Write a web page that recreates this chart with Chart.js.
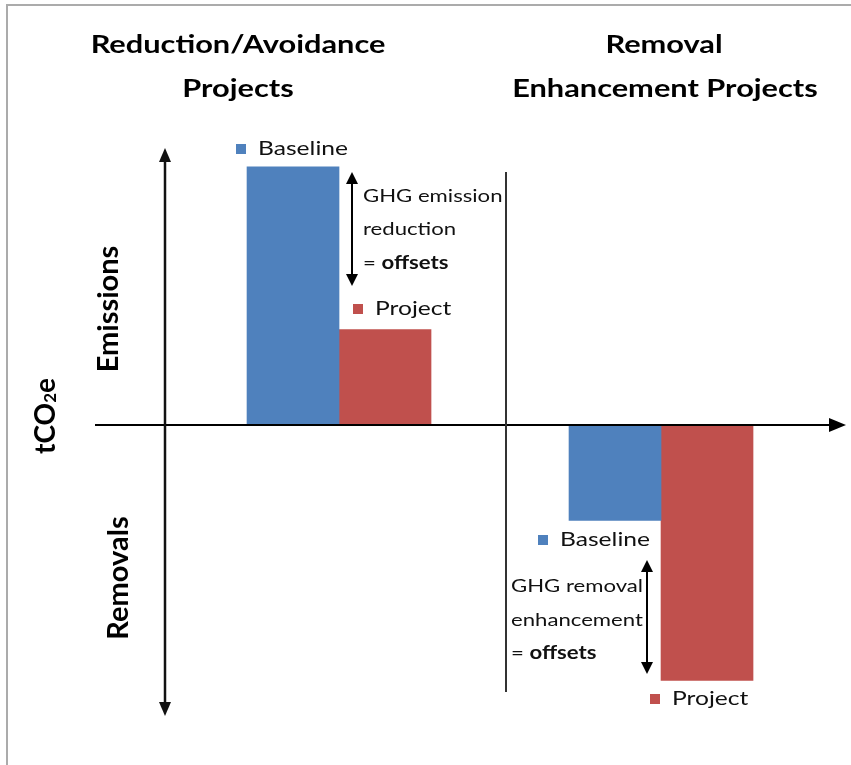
<!DOCTYPE html>
<html>
<head>
<meta charset="utf-8">
<script src="https://cdn.jsdelivr.net/npm/chart.js@4"></script>
<style>
  html, body { margin: 0; padding: 0; background: #fff; }
  canvas { display: block; }
</style>
</head>
<body>
<canvas id="offsetsChart" width="851" height="765"></canvas>
<script>
// data
const groups = ['Reduction/Avoidance Projects', 'Removal Enhancement Projects'];
const seriesNames = ['Baseline', 'Project'];
const baselineSlots = [2, 5.5];
const projectSlots = [3, 6.5];
const baselineValues = [10, -3.7];
const projectValues = [3.7, -9.9];

const BLUE = '#4F81BD';
const RED = '#C0504D';
const FONT = 'Lato, "Open Sans", sans-serif';
const STRETCH = 1.23; // reference text is wide, stretch horizontally

function arrow(ctx, x1, y1, x2, y2, opts) {
    const o = Object.assign({ color: '#000', width: 2, head: 14, headW: 6, start: false, end: true }, opts);
    const ang = Math.atan2(y2 - y1, x2 - x1);
    ctx.save();
    ctx.strokeStyle = o.color;
    ctx.fillStyle = o.color;
    ctx.lineWidth = o.width;
    const sx = o.start ? x1 + Math.cos(ang) * o.head * 0.8 : x1;
    const sy = o.start ? y1 + Math.sin(ang) * o.head * 0.8 : y1;
    const ex = o.end ? x2 - Math.cos(ang) * o.head * 0.8 : x2;
    const ey = o.end ? y2 - Math.sin(ang) * o.head * 0.8 : y2;
    ctx.beginPath();
    ctx.moveTo(sx, sy);
    ctx.lineTo(ex, ey);
    ctx.stroke();
    const head = (tx, ty, a) => {
        ctx.beginPath();
        ctx.moveTo(tx, ty);
        ctx.lineTo(tx - Math.cos(a) * o.head - Math.sin(a) * o.headW, ty - Math.sin(a) * o.head + Math.cos(a) * o.headW);
        ctx.lineTo(tx - Math.cos(a) * o.head + Math.sin(a) * o.headW, ty - Math.sin(a) * o.head - Math.cos(a) * o.headW);
        ctx.closePath();
        ctx.fill();
    };
    if (o.end) head(x2, y2, ang);
    if (o.start) head(x1, y1, ang + Math.PI);
    ctx.restore();
}

function text(ctx, str, x, y, font, align, stretch) {
    const s = stretch || STRETCH;
    ctx.save();
    ctx.font = font;
    ctx.textAlign = align || 'left';
    ctx.textBaseline = 'middle';
    ctx.translate(x, y);
    ctx.scale(s, 1);
    ctx.fillText(str, 0, 0);
    ctx.restore();
}

function textWidth(ctx, str, font) {
    ctx.save();
    ctx.font = font;
    const w = ctx.measureText(str).width * STRETCH;
    ctx.restore();
    return w;
}

function legendItem(ctx, color, label, x, y) {
    ctx.fillStyle = color;
    ctx.fillRect(x, y - 5, 10, 10);
    ctx.fillStyle = '#111';
    text(ctx, label, x + 22, y, '20px ' + FONT);
}

const decorations = {
    id: 'decorations',
    afterDatasetsDraw(chart) {
        const { ctx, scales: { y } } = chart;
        const zeroY = y.getPixelForValue(0);
        const base = chart.getDatasetMeta(0).data;
        const proj = chart.getDatasetMeta(1).data;

        ctx.save();
        // frame
        ctx.fillStyle = '#ababab';
        ctx.fillRect(6, 4, 851, 2);
        ctx.fillRect(6, 4, 2, 765);

        // axes
        arrow(ctx, 95, zeroY, 846, zeroY, { width: 2, head: 17, headW: 7 });
        arrow(ctx, 165, 716, 165, 148, { width: 2.5, head: 14, headW: 6, start: true, color: '#111' });

        // divider
        ctx.fillStyle = '#333';
        ctx.fillRect(505, 172, 2, 520);

        // offset arrows between baseline and project
        const lx = base[0].x + base[0].width / 2 + 13;
        arrow(ctx, lx, 172, lx, 286, { width: 2, head: 12, headW: 6, start: true });
        const rx = proj[1].x - proj[1].width / 2 - 14;
        arrow(ctx, rx, 560, rx, 674, { width: 2, head: 12, headW: 6, start: true });

        // titles
        ctx.fillStyle = '#000';
        const tf = 'bold 25px ' + FONT;
        text(ctx, 'Reduction/Avoidance', 238, 45, tf, 'center');
        text(ctx, 'Projects', 238, 89, tf, 'center');
        text(ctx, 'Removal', 664, 45, tf, 'center');
        text(ctx, 'Enhancement Projects', 665, 89, tf, 'center');

        // y side labels
        const rot = (str, cx, cy, font) => {
            ctx.save();
            ctx.translate(cx, cy);
            ctx.rotate(-Math.PI / 2);
            text(ctx, str, 0, 0, font, 'center', 1);
            ctx.restore();
        };
        rot('Emissions', 109, 309, 'bold 29px ' + FONT);
        rot('Removals', 119, 578, 'bold 29px ' + FONT);

        // tCO2e with subscript
        ctx.save();
        ctx.translate(46, 416);
        ctx.rotate(-Math.PI / 2);
        const big = 'bold 28px ' + FONT;
        const small = 'bold 17px ' + FONT;
        ctx.font = big;
        const w1 = ctx.measureText('tCO').width;
        ctx.font = small;
        const w2 = ctx.measureText('2').width;
        ctx.font = big;
        const w3 = ctx.measureText('e').width;
        const sx = -(w1 + w2 + w3) / 2;
        text(ctx, 'tCO', sx, 0, big, 'left', 1);
        text(ctx, '2', sx + w1, 5, small, 'left', 1);
        text(ctx, 'e', sx + w1 + w2, 0, big, 'left', 1);
        ctx.restore();

        // legend-style markers next to bars
        legendItem(ctx, BLUE, seriesNames[0], 236, 149);
        legendItem(ctx, RED, seriesNames[1], 353, 309);
        legendItem(ctx, BLUE, seriesNames[0], 538, 540);
        legendItem(ctx, RED, seriesNames[1], 650, 699);

        // annotation texts
        ctx.fillStyle = '#111';
        const af = '18px ' + FONT;
        const bf = 'bold 18px ' + FONT;
        const eqLine = (x0, yy) => {
            text(ctx, '= ', x0, yy, af);
            text(ctx, 'offsets', x0 + textWidth(ctx, '= ', af), yy, bf);
        };
        text(ctx, 'GHG emission', 363, 196, af);
        text(ctx, 'reduction', 363, 229, af);
        eqLine(363, 263);
        text(ctx, 'GHG removal', 511, 586, af);
        text(ctx, 'enhancement', 511, 620, af);
        eqLine(511, 653);
        ctx.restore();
    }
};

new Chart(document.getElementById('offsetsChart'), {
    type: 'bar',
    data: {
        datasets: [
            {
                label: seriesNames[0],
                data: baselineSlots.map((s, i) => ({ x: s, y: baselineValues[i] })),
                backgroundColor: BLUE,
                barThickness: 92,
                grouped: false
            },
            {
                label: seriesNames[1],
                data: projectSlots.map((s, i) => ({ x: s, y: projectValues[i] })),
                backgroundColor: RED,
                barThickness: 92,
                grouped: false
            }
        ]
    },
    options: {
        responsive: false,
        animation: false,
        layout: { padding: 0 },
        plugins: {
            legend: { display: false },
            tooltip: { enabled: false },
            title: { display: false }
        },
        scales: {
            x: { type: 'linear', min: -1.185, max: 8.065, offset: false, display: false },
            y: { min: -13.18, max: 16.47, display: false }
        }
    },
    plugins: [decorations]
});
</script>
</body>
</html>
